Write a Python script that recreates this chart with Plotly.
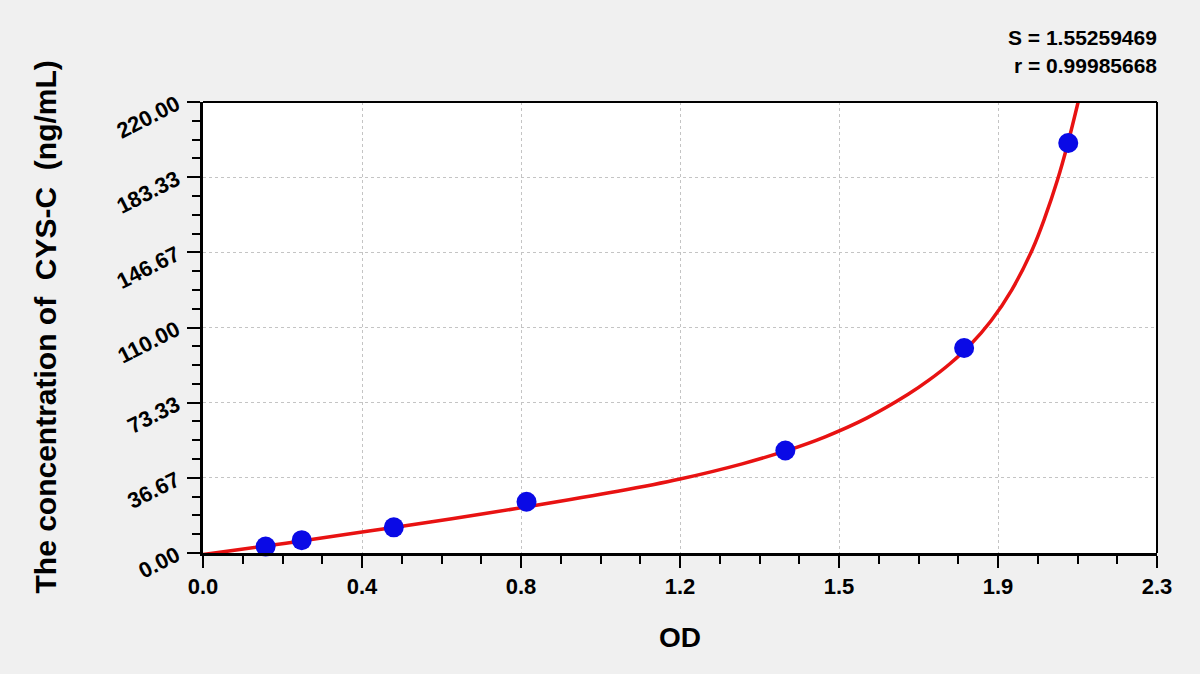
import plotly.graph_objects as go

# Standard points (OD, concentration ng/mL)
od_points = [0.151, 0.238, 0.460, 0.780, 1.404, 1.835, 2.086]
conc_points = [3.125, 6.25, 12.5, 25.0, 50.0, 100.0, 200.0]

# Fitted curve
curve_od = [0.0, 0.2, 0.4, 0.6, 0.78, 1.0, 1.15, 1.3, 1.405, 1.5, 1.6,
            1.7, 1.75, 1.8, 1.85, 1.9, 1.95, 2.0, 2.03, 2.06, 2.084, 2.11, 2.12]
curve_conc = [-0.8, 4.8, 10.7, 16.7, 22.5, 30.1, 36.1, 43.5, 49.8, 56.7, 65.8,
              77.4, 84.3, 92.2, 101.6, 113.3, 128.4, 148.3, 163.8, 181.9, 199.0, 220.1, 228.8]

x_tick_vals = [0, 0.38333, 0.76667, 1.15, 1.53333, 1.91667, 2.3]
x_tick_text = ["0.0", "0.4", "0.8", "1.2", "1.5", "1.9", "2.3"]
y_tick_vals = [0, 36.6667, 73.3333, 110, 146.6667, 183.3333, 220]
y_tick_text = ["0.00", "36.67", "73.33", "110.00", "146.67", "183.33", "220.00"]

stat_lines = ["S = 1.55259469", "r = 0.99985668"]
x_title = "OD"
y_title = "The concentration of  CYS-C  (ng/mL)"

FONT = "Liberation Sans"

fig = go.Figure()
fig.add_trace(go.Scatter(
    x=curve_od, y=curve_conc, mode="lines",
    line=dict(color="#e81212", width=3.5, shape="spline", smoothing=1.0),
    hoverinfo="skip", showlegend=False))
fig.add_trace(go.Scatter(
    x=od_points, y=conc_points, mode="markers",
    marker=dict(color="#0a0ae6", size=20, line=dict(width=0)),
    showlegend=False, cliponaxis=False))

axis_common = dict(
    showline=True, linewidth=3, linecolor="black",
    ticks="outside", tickwidth=2, tickcolor="black",
    showgrid=True, gridcolor="#c4c4c4", griddash="dot", gridwidth=1,
    zeroline=False, mirror=False,
    tickfont=dict(family=FONT, size=22, color="black", weight="bold"),
)

fig.update_layout(
    width=1200, height=674,
    margin=dict(l=203, r=43, t=102, b=121),
    paper_bgcolor="#f0f0f0", plot_bgcolor="white",
    xaxis=dict(range=[0, 2.3], tickmode="array", tickvals=x_tick_vals,
               ticktext=x_tick_text, ticklen=12, ticklabelstandoff=0,
               minor=dict(ticks="outside", ticklen=8, tickwidth=2, tickcolor="black",
                          tick0=0, dtick=2.3 / 24, showgrid=False),
               **axis_common),
    yaxis=dict(range=[0, 220], tickmode="array", tickvals=y_tick_vals,
               ticktext=y_tick_text, ticklen=13, tickangle=-27, ticklabelstandoff=6,
               minor=dict(ticks="outside", ticklen=8, tickwidth=2, tickcolor="black",
                          tick0=0, dtick=220 / 24, showgrid=False),
               **axis_common),
    shapes=[
        dict(type="line", xref="paper", yref="paper", x0=0, x1=1, y0=1, y1=1,
             line=dict(color="black", width=2), layer="above"),
        dict(type="line", xref="paper", yref="paper", x0=1, x1=1, y0=0, y1=1,
             line=dict(color="black", width=2), layer="above"),
    ],
    annotations=[
        dict(text=x_title, xref="paper", yref="paper", x=0.5, y=-0.188,
             showarrow=False, xanchor="center", yanchor="middle",
             font=dict(family=FONT, size=28, color="black", weight="bold")),
        dict(text=y_title, xref="paper", yref="paper", x=-0.1656, y=0.5,
             showarrow=False, xanchor="center", yanchor="middle", textangle=-90,
             font=dict(family=FONT, size=30, color="black", weight="bold")),
        dict(text=stat_lines[0], xref="paper", yref="paper", x=1.002, y=1.142,
             showarrow=False, xanchor="right", yanchor="middle",
             font=dict(family=FONT, size=21, color="black", weight="bold")),
        dict(text=stat_lines[1], xref="paper", yref="paper", x=1.002, y=1.080,
             showarrow=False, xanchor="right", yanchor="middle",
             font=dict(family=FONT, size=21, color="black", weight="bold")),
    ],
)

fig.write_html("out.html", config={"displayModeBar": False})

# remove the default page margin so the figure sits at the window origin
with open("out.html", "r", encoding="utf-8") as f:
    html = f.read()
html = html.replace("<body>", '<body style="margin:0;padding:0;background:#f0f0f0;">', 1)
with open("out.html", "w", encoding="utf-8") as f:
    f.write(html)
